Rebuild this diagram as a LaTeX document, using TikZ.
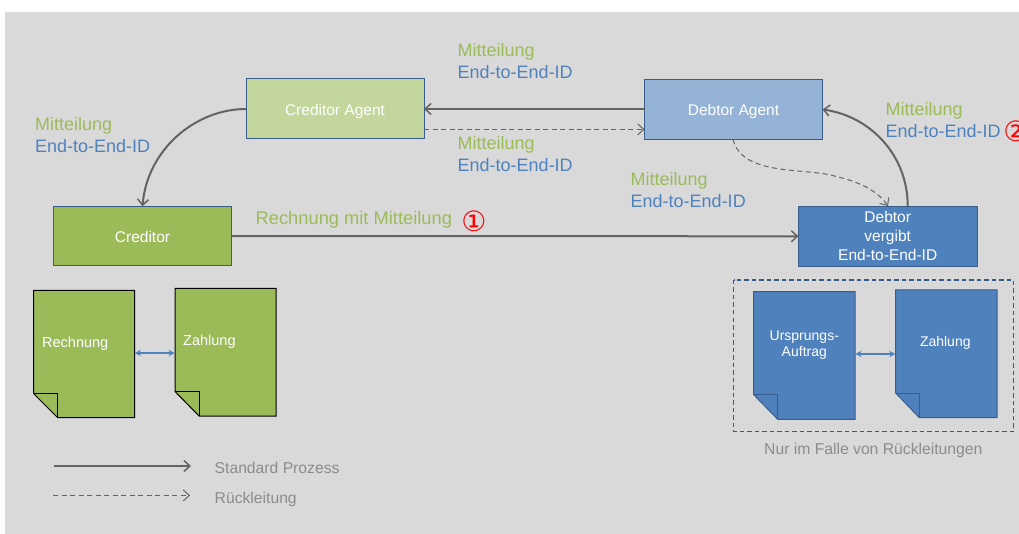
\documentclass[tikz,border=0pt]{standalone}
\usepackage{fontspec}
\setmainfont{Liberation Sans}
\newfontfamily\symfont{DejaVu Sans}
\usetikzlibrary{arrows.meta}
\definecolor{pagebg}{HTML}{D9D9D9}
\definecolor{grn}{HTML}{9BBB59}
\definecolor{lgrn}{HTML}{C3D69B}
\definecolor{blu}{HTML}{4F81BD}
\definecolor{lblu}{HTML}{95B3D7}
\definecolor{edgeblu}{HTML}{385D8A}
\definecolor{conn}{HTML}{636363}
\definecolor{gtxt}{HTML}{8C8C8C}
\newcommand{\fs}[1]{\fontsize{#1}{#1}\selectfont}
\tikzset{
  x=1pt,y=-1pt,
  boxnode/.style={draw=edgeblu,line width=1pt,inner sep=0pt,outer sep=0pt,text=white,font=\fs{15.5},text height=12.5pt,text depth=0pt,anchor=north west},
  txt/.style={inner sep=0pt,anchor=base west},
  grntxt/.style={txt,text=grn,font=\fs{18}},
  blutxt/.style={txt,text=blu,font=\fs{18}},
  doctxt/.style={txt,text=white,font=\fs{14.5}},
  bluedoctxt/.style={txt,text=white,font=\fs{14},anchor=base},
  graytxt/.style={txt,text=gtxt,font=\fs{15.7}},
  solidarrow/.style={draw=conn,line width=2pt,-{Straight Barb[length=6pt,width=11pt,line width=1.5pt]}},
  dasharrow/.style={draw=conn,line width=1pt,dash pattern=on 5pt off 3.5pt,-{Straight Barb[length=6pt,width=11pt,line width=1pt]}},
  twoway/.style={draw=blu,line width=1.2pt,{Stealth[length=6pt,width=6.5pt]}-{Stealth[length=6pt,width=6.5pt]},shorten <=0.5pt,shorten >=0.5pt},
  anchorbox/.style={inner sep=0pt,outer sep=0pt,anchor=north west},
  redmark/.style={inner sep=0pt,text=red,font=\symfont\fs{28}}
}
\newcommand{\msg}[3]{%
  \node[grntxt] (#1a) at (#2,#3) {Mitteilung};
  \node[blutxt] (#1b) at (#2,#3+22) {End-to-End-ID};}
\newcommand{\docpage}[9]{%
  \node[anchorbox,minimum width=#4pt-#2pt,minimum height=#5pt-#3pt] (#1) at (#2,#3) {};
  \filldraw[fill=#8,draw=#9,line width=1pt,line join=miter]
    (#2,#3) -- (#4,#3) -- (#4,#5) -- (#6,#5) -- (#2,#7) -- cycle;
  \draw[draw=#9,line width=1pt] (#2,#7) -- (#6,#7) -- (#6,#5);}
\begin{document}
\begin{tikzpicture}
\useasboundingbox (0,0) rectangle (1019,534);
\fill[pagebg] (5,12) rectangle (1019,534);

\node[boxnode,fill=lgrn,minimum width=178pt,minimum height=60pt] (cagent) at (246,79) {Creditor Agent};
\node[boxnode,fill=lblu,minimum width=178pt,minimum height=60pt] (dagent) at (644.5,79.5) {Debtor Agent};
\node[boxnode,fill=grn,minimum width=178pt,minimum height=59.5pt] (creditor) at (53.5,206.3) {Creditor};
\node[boxnode,fill=blu,minimum width=178.5pt,minimum height=60pt] (debtor) at (798.5,206.3) {};
\node[txt,text=white,font=\fs{15.5},anchor=base] (d1) at (887.7,222.7) {Debtor};
\node[txt,text=white,font=\fs{15.5},anchor=base] (d2) at (887.7,242) {vergibt};
\node[txt,text=white,font=\fs{15.5},anchor=base] (d3) at (887.7,261) {End-to-End-ID};

% connectors
\draw[solidarrow] (cagent.west) .. controls (195,109) and (147,150) .. (creditor.north);
\draw[solidarrow] (creditor.east) -- (debtor.west);
\draw[solidarrow] (dagent.west |- cagent.west) -- (cagent.east);
\coordinate (dup) at (907.7,206);
\coordinate (dlo) at (888,206);
\coordinate (dastart) at (733,139.5);
\coordinate (ca2) at (424,129.4);
\coordinate (da2) at (644.5,129.4);
\draw[solidarrow] (dup) .. controls (907.7,155) and (870,116) .. (dagent.east);
\draw[dasharrow] (ca2) -- (da2);
\draw[dasharrow] (dastart) .. controls (742,175) and (800,168) .. (830,175) .. controls (858,181) and (877,190) .. (dlo);

% messages
\msg{m1}{457.5}{56.5}
\msg{m2}{457.5}{150}
\msg{m3}{35}{130.5}
\msg{m4}{630.5}{185.3}
\msg{m5}{885.3}{115.7}
\node[grntxt,font=\fs{18.3}] (rechmsg) at (255.5,224.5) {Rechnung mit Mitteilung};
\node[redmark] (n1) at (474,221) {①};
\node[redmark] (n2) at (1016,131.5) {②};

% documents
\docpage{rech}{33.5}{290.5}{134.5}{417.5}{57.5}{393.5}{grn}{black}
\docpage{zahl}{175}{288.5}{276}{416}{199}{391.5}{grn}{black}
\docpage{urs}{753.7}{291.7}{855}{419.3}{777.7}{394.7}{blu}{edgeblu}
\docpage{zahr}{895.7}{290}{997}{417.7}{919.3}{393}{blu}{edgeblu}
\node[doctxt] (trech) at (42,347.3) {Rechnung};
\node[doctxt] (tzahl) at (183,345.3) {Zahlung};
\node[bluedoctxt] (turs1) at (804.3,340) {Ursprungs-};
\node[bluedoctxt] (turs2) at (804.3,356) {Auftrag};
\node[bluedoctxt] (tzahr) at (945.3,346.7) {Zahlung};
\draw[twoway] (rech.east |- 0,353) -- (zahl.west |- 0,353);
\draw[twoway] (urs.east |- 0,354) -- (zahr.west |- 0,354);

\draw[draw=edgeblu,line width=1.3pt,dash pattern=on 4.5pt off 3pt] (733.7,280) rectangle (1013.7,431.3);
\node[graytxt,font=\fs{15.7}] (nur) at (764,454.7) {Nur im Falle von Rückleitungen};

% legend
\coordinate (l1a) at (54,466);
\coordinate (l1b) at (191,466);
\coordinate (l2a) at (53,495.4);
\coordinate (l2b) at (190,495.4);
\draw[solidarrow] (l1a) -- (l1b);
\draw[dasharrow] (l2a) -- (l2b);
\node[graytxt] (ls) at (214.5,473) {Standard Prozess};
\node[graytxt] (lr) at (214.5,503) {Rückleitung};
\end{tikzpicture}
\end{document}
